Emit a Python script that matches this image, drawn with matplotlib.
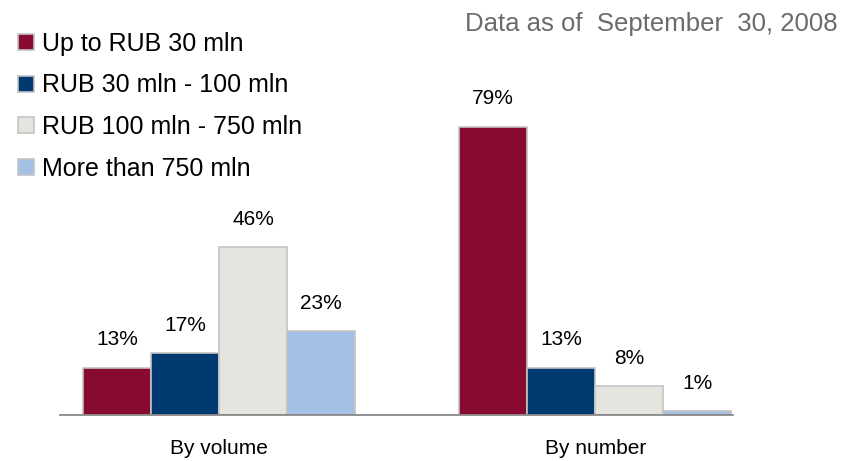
import numpy as np
import matplotlib
matplotlib.use("Agg")
import matplotlib.pyplot as plt

plt.rcParams['font.family'] = ['Liberation Sans', 'DejaVu Sans']

groups = ["By volume", "By number"]
series = ["Up to RUB 30 mln", "RUB 30 mln - 100 mln", "RUB 100 mln - 750 mln", "More than 750 mln"]
by_volume = [13, 17, 46, 23]
by_number = [79, 13, 8, 1]
colors = ['#890a30', '#003a70', '#e5e5df', '#a3c1e4']

values = np.array([by_volume, by_number])  # rows: groups, cols: series

fig = plt.figure(figsize=(8.59, 4.61), dpi=100)
ax = fig.add_axes([0.0698, 0.0998, 0.7832, 0.8135])

w = 0.181  # bar width
x = np.arange(len(groups))
handles = []
for i, name in enumerate(series):
    pos = x + (i - 1.5) * w
    bars = ax.bar(pos, values[:, i], width=w, color=colors[i],
                  edgecolor='#c4c4c4', linewidth=1.2, label=name)
    handles.append(bars)
    for px, v in zip(pos, values[:, i]):
        ax.annotate(f"{v}%", (px, v), xytext=(0, 13), textcoords='offset points',
                    ha='center', va='bottom', fontsize=15)

ax.set_xlim(-0.424, 1.366)
ax.set_ylim(0, 102.7)
ax.set_xticks(x)
ax.set_xticklabels(groups, fontsize=15)
ax.tick_params(axis='x', length=0, pad=17.5)
ax.set_yticks([])
for s in ['top', 'right', 'left']:
    ax.spines[s].set_visible(False)
ax.spines['bottom'].set_color('#808080')
ax.spines['bottom'].set_linewidth(1.2)

fig.legend(handles=handles, loc='upper left', bbox_to_anchor=(18 / 859, 1 - 32 / 461),
           frameon=False, fontsize=18, borderpad=0, borderaxespad=0,
           handlelength=0.62, handleheight=0.62, handletextpad=0.32, labelspacing=0.7)

fig.text(838 / 859, 0.975, "Data as of  September  30, 2008", ha='right', va='top',
         fontsize=18.5, color='#6b6b6b')

fig.savefig("out.png", dpi=100)
